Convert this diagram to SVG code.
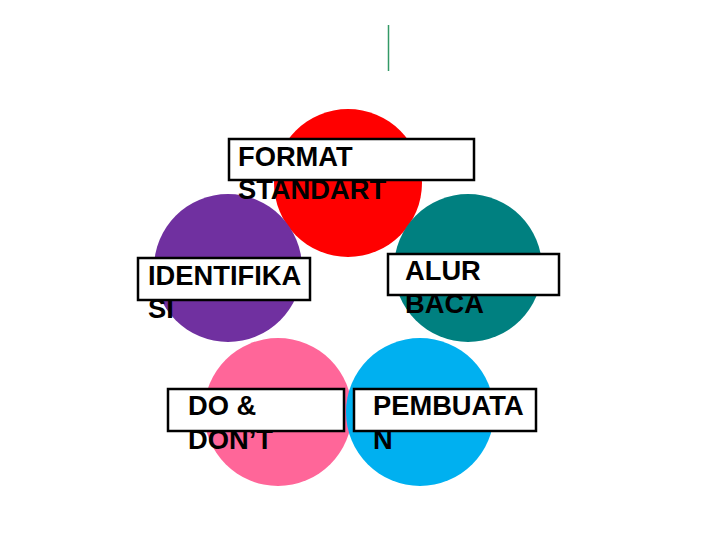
<svg xmlns="http://www.w3.org/2000/svg" width="720" height="540" viewBox="0 0 720 540">
<style>
.box{fill:#fff;stroke:#000;stroke-width:2.5}
.lbl{font-family:"Liberation Sans",Arial,sans-serif;font-weight:bold;font-size:27.3px;fill:#000}
</style>
<rect width="720" height="540" fill="#fff"/>
<line x1="388.5" y1="25" x2="388.5" y2="71" stroke="#339966" stroke-width="1.5"/>
<g id="connectors"/>
<g id="format">
<circle cx="348" cy="183" r="74" fill="#ff0000"/>
</g>
<g id="identifikasi">
<circle cx="228" cy="268" r="74" fill="#7030a0"/>
</g>
<g id="alur">
<circle cx="468" cy="268" r="74" fill="#008080"/>
</g>
<g id="dodont">
<circle cx="278" cy="412" r="74" fill="#ff6699"/>
</g>
<g id="pembuatan">
<circle cx="420" cy="412" r="74" fill="#00b0f0"/>
</g>
<g id="format-label">
<rect class="box" x="229" y="139" width="245" height="41"/>
<text class="lbl" x="238" y="166">FORMAT</text>
<text class="lbl" x="238" y="199">STANDART</text>
</g>
<g id="identifikasi-label">
<rect class="box" x="138" y="258" width="172" height="42"/>
<text class="lbl" x="148" y="285">IDENTIFIKA</text>
<text class="lbl" x="148" y="318">SI</text>
</g>
<g id="alur-label">
<rect class="box" x="388" y="254" width="171" height="41"/>
<text class="lbl" x="405" y="280">ALUR</text>
<text class="lbl" x="405" y="313">BACA</text>
</g>
<g id="dodont-label">
<rect class="box" x="168" y="389" width="176" height="42"/>
<text class="lbl" x="188" y="415">DO &amp;</text>
<text class="lbl" x="188" y="449">DON’T</text>
</g>
<g id="pembuatan-label">
<rect class="box" x="354" y="389" width="182" height="42"/>
<text class="lbl" x="373" y="415">PEMBUATA</text>
<text class="lbl" x="373" y="449">N</text>
</g>
</svg>
